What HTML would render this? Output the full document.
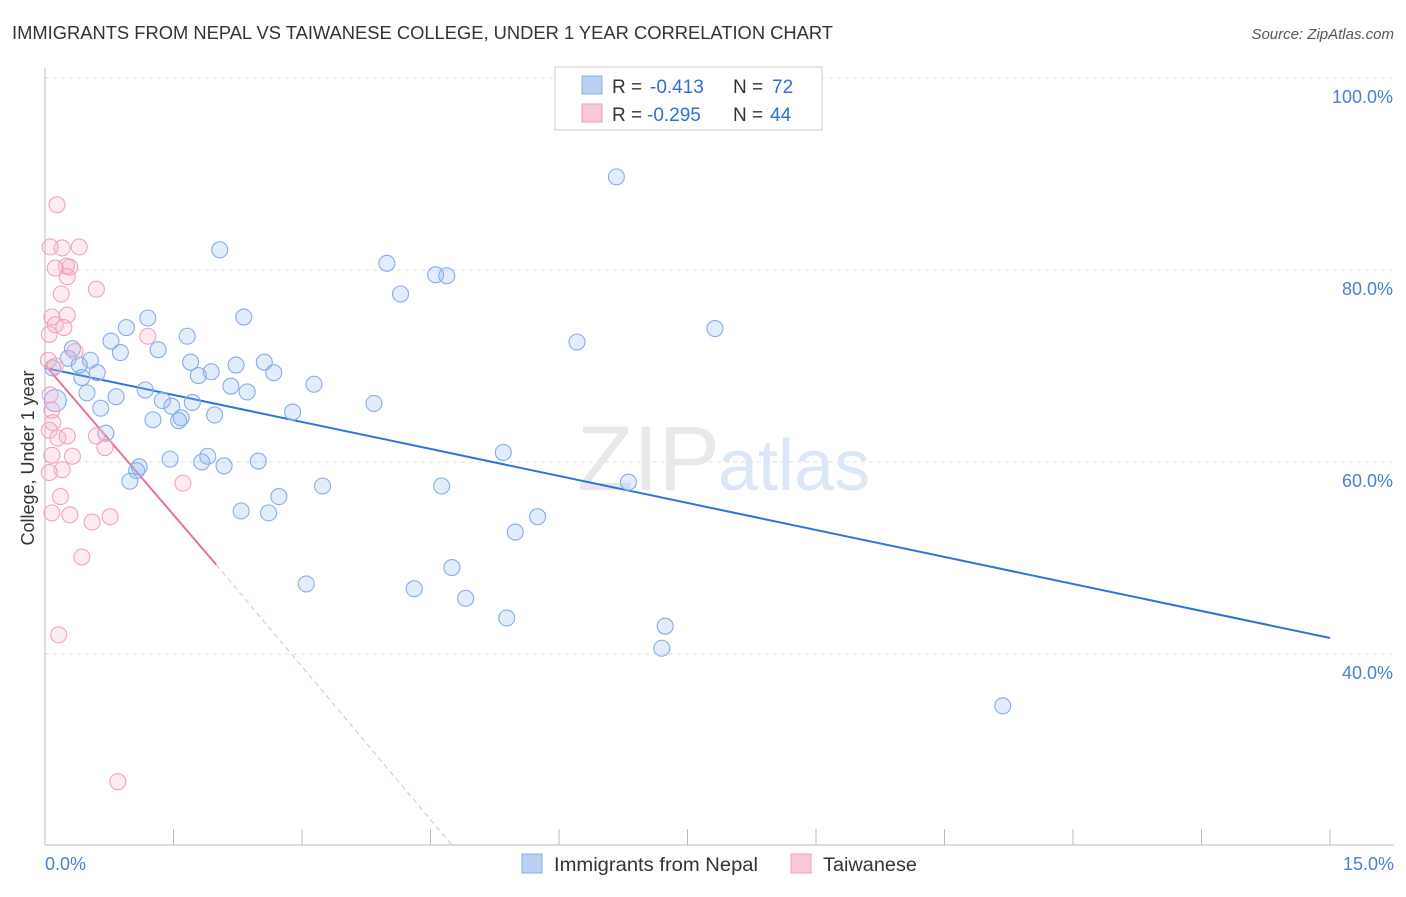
<!DOCTYPE html>
<html><head><meta charset="utf-8"><style>
body{margin:0;background:#fff;font-family:"Liberation Sans",sans-serif;}
svg text{font-family:"Liberation Sans",sans-serif;}
</style></head><body>
<svg width="1406" height="892" viewBox="0 0 1406 892">
<text x="12" y="39" font-size="18" fill="#333" textLength="821" lengthAdjust="spacingAndGlyphs">IMMIGRANTS FROM NEPAL VS TAIWANESE COLLEGE, UNDER 1 YEAR CORRELATION CHART</text>
<text x="1394" y="39" font-size="15" fill="#555" font-style="italic" text-anchor="end">Source: ZipAtlas.com</text>
<g id="grid"></g>
<g id="axes"></g>
<text x="720" y="490" font-size="92" fill="#e8e8e8" text-anchor="end" font-family="Liberation Serif">ZIP</text>
<text x="718" y="490" font-size="72" fill="#dbe7f6">atlas</text>
<g id="lines"></g>
<g id="pts"></g>
<text x="34" y="458" font-size="18" fill="#333" text-anchor="middle" transform="rotate(-90 34 458)">College, Under 1 year</text>
<text x="45" y="870" font-size="18" fill="#4a7fd4">0.0%</text>
<text x="1394" y="870" font-size="18" fill="#4a7fd4" text-anchor="end">15.0%</text>
<g>
<rect x="555" y="67" width="267" height="63" fill="#fff" stroke="#ccc"/>
<rect x="582" y="76" width="20" height="18" fill="#b8d0f4" stroke="#8ab0e8"/>
<rect x="582" y="104" width="20" height="18" fill="#fbc8d8" stroke="#f0a0bc"/>
<text x="612" y="93" font-size="19" fill="#333">R =</text>
<text x="650" y="93" font-size="19" fill="#2f6fd6">-0.413</text>
<text x="733" y="93" font-size="19" fill="#333">N =</text>
<text x="772" y="93" font-size="19" fill="#2f6fd6">72</text>
<text x="612" y="121" font-size="19" fill="#333">R =</text>
<text x="647" y="121" font-size="19" fill="#2f6fd6">-0.295</text>
<text x="733" y="121" font-size="19" fill="#333">N =</text>
<text x="770" y="121" font-size="19" fill="#2f6fd6">44</text>
</g>
<g>
<rect x="522" y="854" width="20" height="19" fill="#b8d0f4" stroke="#8ab0e8"/>
<text x="554" y="871" font-size="19" fill="#333" textLength="204" lengthAdjust="spacingAndGlyphs">Immigrants from Nepal</text>
<rect x="791" y="854" width="20" height="19" fill="#fbc8d8" stroke="#f0a0bc"/>
<text x="823" y="871" font-size="19" fill="#333" textLength="94" lengthAdjust="spacingAndGlyphs">Taiwanese</text>
</g>
</svg>
<script>
const yTicks=[40,60,80,100];
const yTickLabels=["40.0%","60.0%","80.0%","100.0%"];
const blueX=[6.67,2.04,3.99,4.56,4.69,4.15,2.32,1.20,7.82,0.95,1.66,0.77,6.21,1.32,0.32,0.88,0.27,0.53,1.70,2.56,2.23,0.40,0.09,0.61,2.67,1.94,1.79,0.43,3.14,2.17,1.17,2.36,0.49,0.83,0.12,1.37,3.84,1.72,1.48,0.65,2.89,1.98,1.59,1.56,1.26,0.71,5.35,1.90,1.46,2.49,1.83,2.09,1.10,1.07,6.81,0.99,3.24,4.63,2.73,2.29,2.61,5.75,5.49,4.75,3.05,4.31,4.91,5.39,7.24,7.20,11.18];
const blueY=[89.7,82.1,80.7,79.5,79.4,77.5,75.1,75.0,73.9,74.0,73.1,72.6,72.5,71.7,71.8,71.4,70.8,70.6,70.4,70.4,70.1,70.1,69.8,69.3,69.3,69.4,69.0,68.8,68.1,67.9,67.5,67.3,67.2,66.8,66.4,66.4,66.1,66.2,65.8,65.6,65.2,64.9,64.6,64.3,64.4,63.0,61.0,60.6,60.3,60.1,60.0,59.6,59.5,59.1,57.9,58.0,57.5,57.5,56.4,54.9,54.7,54.3,52.7,49.0,47.3,46.8,45.8,43.75,42.9,40.6,34.6];
const pinkX=[0.14,0.06,0.40,0.20,0.25,0.12,0.29,0.26,0.60,0.19,0.08,0.26,0.12,0.22,0.05,1.20,0.35,0.04,0.12,0.06,0.08,0.09,0.05,0.15,0.26,0.60,0.70,0.32,0.08,0.20,0.05,1.61,0.18,0.08,0.29,0.76,0.55,0.43,0.16,0.85];
const pinkY=[86.8,82.4,82.4,82.3,80.4,80.2,80.3,79.3,78.0,77.5,75.1,75.3,74.3,74.0,73.3,73.1,71.5,70.6,70.0,67.0,65.4,64.1,63.3,62.5,62.7,62.7,61.5,60.6,60.7,59.2,58.9,57.8,56.4,54.7,54.5,54.3,53.75,50.1,42.0,26.7];
const blueTrend=[[0,69.8],[15,41.67]];
const pinkTrend=[[0,70.1],[2.0,49.3]];
const pinkDash=[[2.0,49.3],[4.75,20.1]];
const X=v=>45+v*(1285/15), Y=v=>78+(100-v)*9.6;
const NS="http://www.w3.org/2000/svg";
function mk(t,a,p){const e=document.createElementNS(NS,t);for(const k in a)e.setAttribute(k,a[k]);p.appendChild(e);return e;}
const grid=document.getElementById('grid'),axes=document.getElementById('axes');
yTicks.forEach((t,i)=>{const l=mk('line',{x1:45,x2:1394,y1:Y(t),y2:Y(t),stroke:'#ddd','stroke-dasharray':'4,4'},grid);


const tx=mk('text',{x:1393,y:Y(t)+25,'font-size':18,fill:'#4a7fd4','text-anchor':'end'},axes);tx.textContent=yTickLabels[i];

});
mk('line',{x1:45,x2:45,y1:68,y2:845,stroke:'#bbb'},axes);
mk('line',{x1:45,x2:1394,y1:845,y2:845,stroke:'#bbb'},axes);
for(let i=1;i<=10;i++){const t=mk('line',{x1:X(i*1.5),x2:X(i*1.5),y1:829,y2:845,stroke:'#bbb'},axes);

}
const lines=document.getElementById('lines');
const bl=mk('line',{x1:X(blueTrend[0][0]),y1:Y(blueTrend[0][1]),x2:X(blueTrend[1][0]),y2:Y(blueTrend[1][1]),stroke:'#2f74d8','stroke-width':2},lines);


const pl=mk('line',{x1:X(pinkTrend[0][0]),y1:Y(pinkTrend[0][1]),x2:X(pinkTrend[1][0]),y2:Y(pinkTrend[1][1]),stroke:'#e8709a','stroke-width':2},lines);


const pd=mk('line',{x1:X(pinkDash[0][0]),y1:Y(pinkDash[0][1]),x2:X(pinkDash[1][0]),y2:Y(pinkDash[1][1]),stroke:'#f0b0c6','stroke-width':1,'stroke-dasharray':'5,4'},lines);


const pts=document.getElementById('pts');
blueX.forEach((v,i)=>{const c=mk('circle',{cx:X(v),cy:Y(blueY[i]),r:(i==34?11:8),fill:'rgba(140,180,240,0.25)',stroke:'#86ade8','stroke-width':1.1},pts);

});
pinkX.forEach((v,i)=>{const c=mk('circle',{cx:X(v),cy:Y(pinkY[i]),r:8,fill:'rgba(248,175,200,0.25)',stroke:'#f0a4be','stroke-width':1.1},pts);

});
</script>
</body></html>
